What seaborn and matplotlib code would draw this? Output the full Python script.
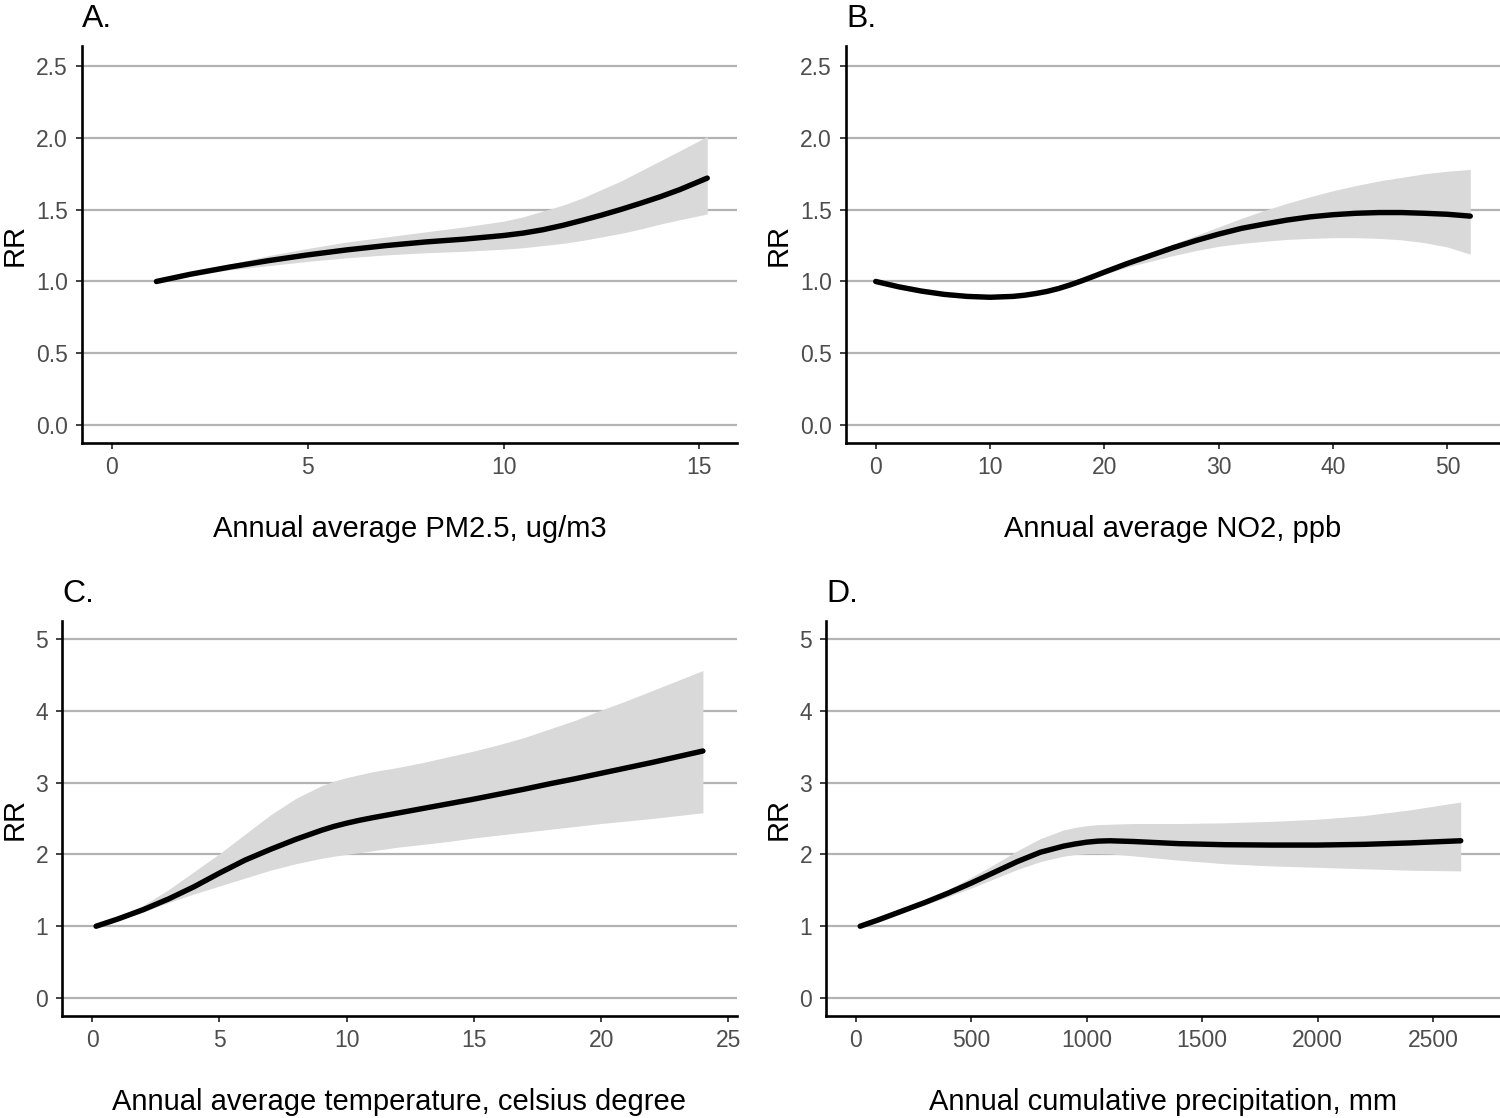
import matplotlib
matplotlib.use("Agg")
import matplotlib.pyplot as plt
import seaborn as sns
import pandas as pd

sns.set_theme(style="white")
plt.rcParams['font.family'] = ['Liberation Sans', 'DejaVu Sans']

# ---------------- Data ----------------
# A. PM2.5
pm_x = [1.14, 2, 3, 4, 5, 6, 7, 8, 9, 10, 10.5, 11, 11.5, 12, 12.5, 13, 13.5, 14, 14.5, 15.2]
pm_rr = [1.00, 1.05, 1.10, 1.145, 1.185, 1.22, 1.25, 1.275, 1.295, 1.32, 1.337, 1.36, 1.39, 1.425, 1.462, 1.502, 1.545, 1.59, 1.64, 1.72]
pm_hi = [1.00, 1.06, 1.12, 1.18, 1.23, 1.275, 1.31, 1.345, 1.38, 1.42, 1.45, 1.49, 1.53, 1.58, 1.64, 1.70, 1.77, 1.84, 1.91, 2.01]
pm_lo = [1.00, 1.04, 1.08, 1.11, 1.14, 1.165, 1.185, 1.20, 1.21, 1.225, 1.235, 1.25, 1.265, 1.285, 1.31, 1.335, 1.365, 1.40, 1.43, 1.47]

# B. NO2
no2_x = [0, 2, 4, 6, 8, 10, 12, 13, 14, 15, 16, 17, 18, 19, 20, 22, 24, 26, 28, 30, 32, 34, 36, 38, 40, 42, 44, 46, 48, 50, 52]
no2_rr = [1.00, 0.963, 0.933, 0.91, 0.896, 0.89, 0.896, 0.904, 0.916, 0.931, 0.951, 0.976, 1.004, 1.034, 1.065, 1.125, 1.18, 1.235, 1.285, 1.33, 1.37, 1.40, 1.428, 1.45, 1.465, 1.475, 1.48, 1.48, 1.475, 1.468, 1.455]
no2_hi = [1.00, 0.968, 0.938, 0.915, 0.90, 0.895, 0.90, 0.909, 0.921, 0.937, 0.958, 0.984, 1.013, 1.045, 1.078, 1.14, 1.20, 1.26, 1.32, 1.38, 1.44, 1.495, 1.545, 1.59, 1.632, 1.668, 1.70, 1.725, 1.75, 1.768, 1.78]
no2_lo = [1.00, 0.958, 0.928, 0.905, 0.891, 0.885, 0.891, 0.899, 0.911, 0.925, 0.944, 0.968, 0.995, 1.023, 1.05, 1.10, 1.14, 1.18, 1.215, 1.245, 1.265, 1.28, 1.293, 1.30, 1.305, 1.305, 1.30, 1.29, 1.27, 1.24, 1.19]

# C. Temperature
tmp_x = [0.15, 1, 2, 3, 4, 5, 6, 7, 8, 9, 9.5, 10, 10.5, 11, 12, 13, 14, 15, 16, 17, 18, 19, 20, 21, 22, 23, 24]
tmp_rr = [1.00, 1.10, 1.23, 1.38, 1.55, 1.74, 1.92, 2.07, 2.21, 2.335, 2.39, 2.435, 2.475, 2.51, 2.575, 2.64, 2.705, 2.77, 2.84, 2.91, 2.985, 3.055, 3.13, 3.205, 3.28, 3.36, 3.44]
tmp_hi = [1.00, 1.13, 1.29, 1.51, 1.76, 2.01, 2.28, 2.55, 2.78, 2.955, 3.02, 3.07, 3.11, 3.15, 3.21, 3.28, 3.36, 3.44, 3.53, 3.63, 3.75, 3.87, 4.01, 4.14, 4.28, 4.42, 4.56]
tmp_lo = [1.00, 1.09, 1.20, 1.33, 1.45, 1.56, 1.67, 1.78, 1.87, 1.945, 1.975, 2.00, 2.025, 2.05, 2.10, 2.14, 2.18, 2.23, 2.27, 2.31, 2.35, 2.39, 2.43, 2.465, 2.50, 2.54, 2.58]

# D. Precipitation
pr_x = [20, 100, 200, 300, 400, 500, 600, 700, 800, 900, 950, 1000, 1050, 1100, 1200, 1400, 1600, 1800, 2000, 2200, 2400, 2620]
pr_rr = [1.00, 1.09, 1.21, 1.33, 1.46, 1.60, 1.75, 1.90, 2.03, 2.115, 2.145, 2.17, 2.185, 2.19, 2.18, 2.15, 2.135, 2.13, 2.13, 2.14, 2.16, 2.19]
pr_hi = [1.00, 1.10, 1.22, 1.36, 1.51, 1.68, 1.86, 2.05, 2.22, 2.34, 2.375, 2.40, 2.415, 2.42, 2.43, 2.43, 2.44, 2.46, 2.49, 2.54, 2.62, 2.73]
pr_lo = [1.00, 1.08, 1.19, 1.30, 1.41, 1.53, 1.66, 1.79, 1.90, 1.975, 1.998, 2.01, 2.012, 2.008, 1.98, 1.92, 1.87, 1.84, 1.82, 1.80, 1.78, 1.77]

panel_labels = ["A.", "B.", "C.", "D."]
x_titles = ["Annual average PM2.5, ug/m3", "Annual average NO2, ppb",
            "Annual average temperature, celsius degree", "Annual cumulative precipitation, mm"]
x_ticks = [[0, 5, 10, 15], [0, 10, 20, 30, 40, 50], [0, 5, 10, 15, 20, 25],
           [0, 500, 1000, 1500, 2000, 2500]]
y_ticks_top = [0.0, 0.5, 1.0, 1.5, 2.0, 2.5]
y_ticks_bot = [0, 1, 2, 3, 4, 5]

# ---------------- Figure ----------------
W, H = 1500, 1118
fig = plt.figure(figsize=(W / 100, H / 100), dpi=100)

px_boxes = [(82, 737, 46, 443), (846, 1500, 46, 443),
            (62, 737, 621, 1016), (826, 1500, 621, 1016)]
xlims = [(-0.76, 15.96), (-2.6, 54.6), (-1.19, 25.34), (-128, 2790)]
ylims = [(-0.125, 2.64), (-0.125, 2.64), (-0.25, 5.25), (-0.25, 5.25)]
ylab_right_px = [29, 793, 29, 793]

data = [(pm_x, pm_rr, pm_lo, pm_hi), (no2_x, no2_rr, no2_lo, no2_hi),
        (tmp_x, tmp_rr, tmp_lo, tmp_hi), (pr_x, pr_rr, pr_lo, pr_hi)]

for i in range(4):
    l, r, t, b = px_boxes[i]
    ax = fig.add_axes([l / W, 1 - b / H, (r - l) / W, (b - t) / H])
    x, rr, lo, hi = data[i]
    df = pd.DataFrame({"x": x, "rr": rr, "lo": lo, "hi": hi})
    yt = y_ticks_top if i < 2 else y_ticks_bot
    for yv in yt:
        ax.axhline(yv, color="#b3b3b3", lw=1.6, zorder=0)
    ax.fill_between(df["x"], df["lo"], df["hi"], color="#d9d9d9", lw=0, zorder=1)
    sns.lineplot(data=df, x="x", y="rr", ax=ax, color="black", lw=3.9,
                 estimator=None, sort=False, zorder=2)
    ax.set_xlim(*xlims[i])
    ax.set_ylim(*ylims[i])
    ax.set_xticks(x_ticks[i])
    ax.set_yticks(yt)
    if i < 2:
        ax.set_yticklabels([f"{v:.1f}" for v in yt])
    else:
        ax.set_yticklabels([str(v) for v in yt])
    ax.set_xlabel(x_titles[i], fontsize=21, labelpad=26, color="black")
    ax.set_ylabel("RR", fontsize=21, color="black")
    ax.yaxis.set_label_coords((ylab_right_px[i] - l) / (r - l), 0.5)
    ax.tick_params(axis="both", which="both", direction="out", length=4.5, width=1.3,
                   color="#333333", labelsize=16.5, labelcolor="#4d4d4d",
                   bottom=True, left=True)
    ax.tick_params(axis="y", pad=5.5)
    ax.tick_params(axis="x", pad=5)
    for s in ["top", "right"]:
        ax.spines[s].set_visible(False)
    for s in ["left", "bottom"]:
        ax.spines[s].set_color("black")
        ax.spines[s].set_linewidth(1.9)
    ax.set_title(panel_labels[i], loc="left", fontsize=23, pad=13.5, color="black")

fig.savefig("out.png", dpi=100)
